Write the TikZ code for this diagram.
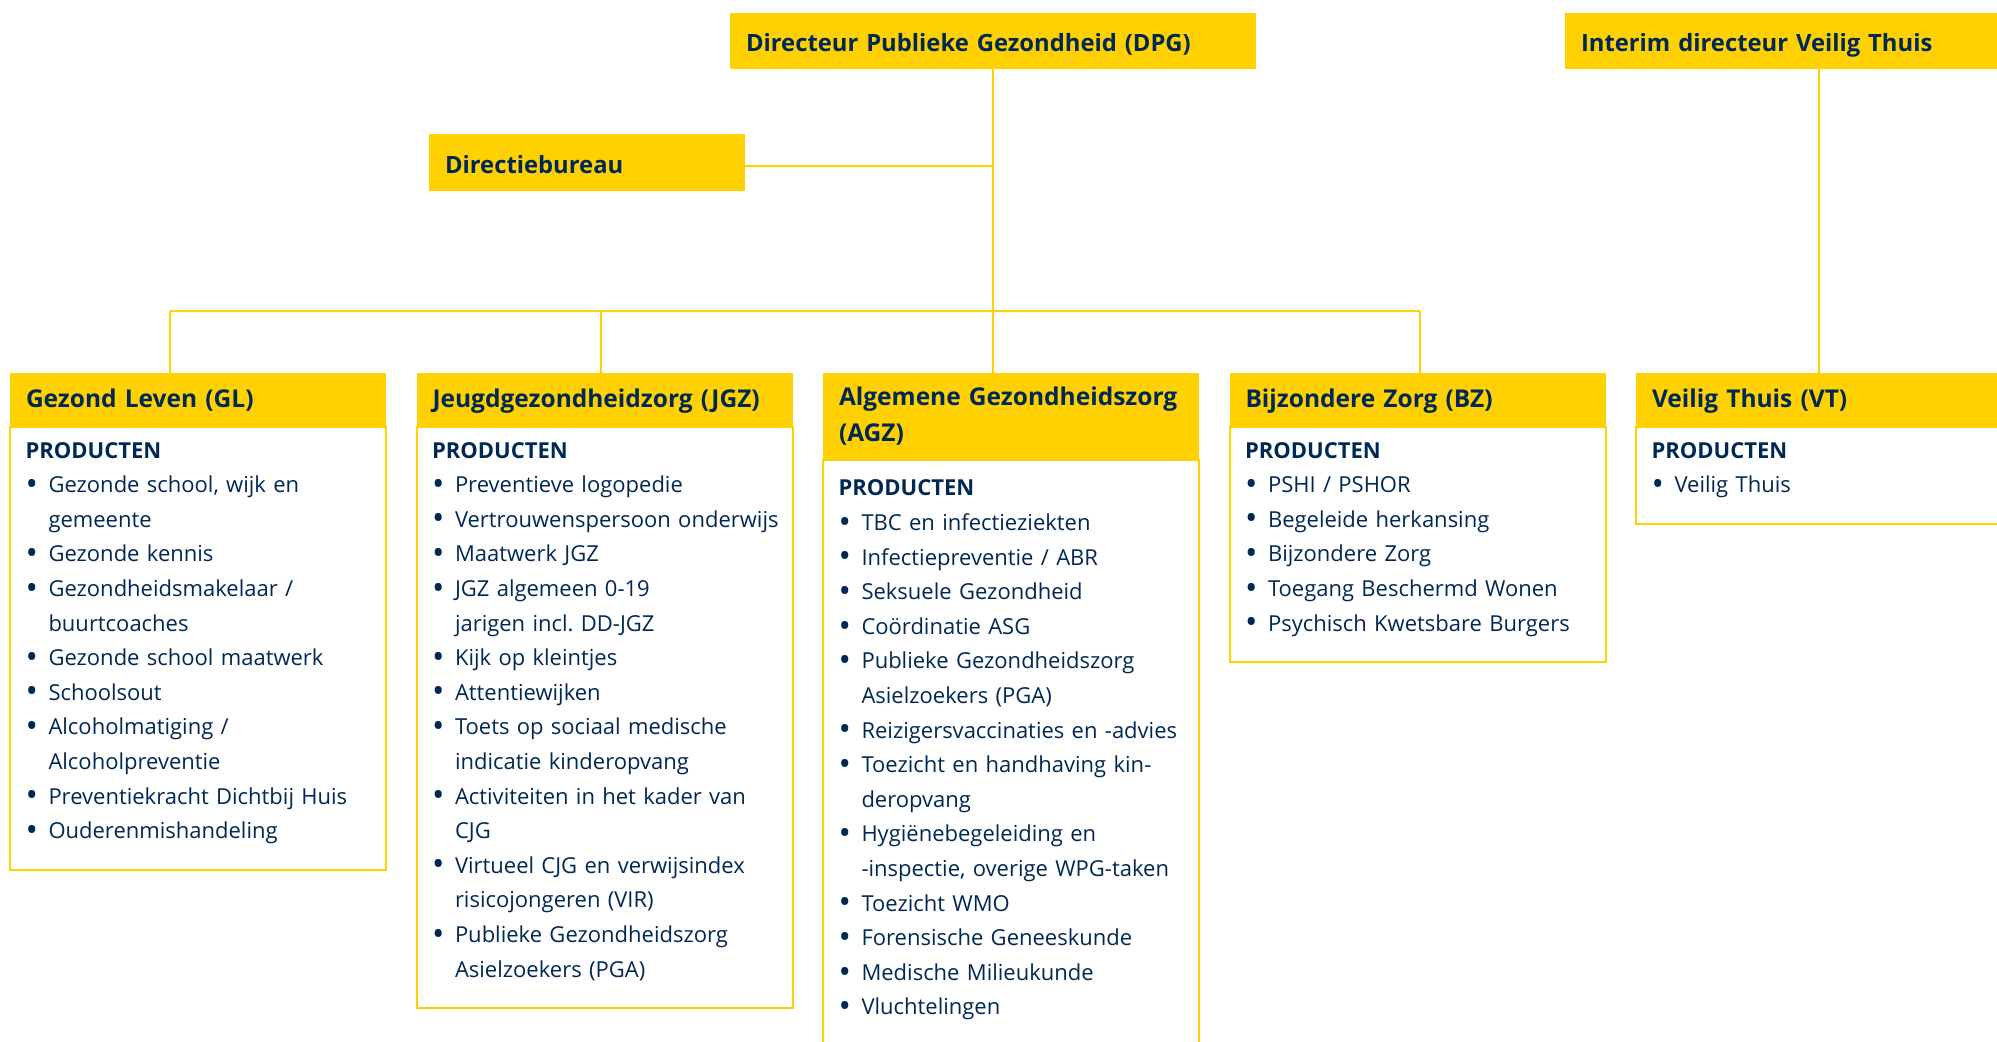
\documentclass[tikz,border=0pt]{standalone}
\usepackage{fontspec}
\setmainfont{Open Sans}
\usetikzlibrary{positioning}
\definecolor{ggdgeel}{RGB}{255,209,0}
\definecolor{ggdblauw}{RGB}{0,40,85}
\frenchspacing
\newcommand\bol{\raisebox{-0.12em}{\scalebox{1.5}{\textbullet}}}
\newcommand\itm[1]{\par\noindent\makebox[11.5pt][l]{\bol}\mbox{#1}}
\newcommand\itmm[2]{\itm{#1}\par\noindent\hspace*{11.5pt}\mbox{#2}}
\newcommand\prodkop{\noindent\textbf{PRODUCTEN}\strut}
\newcommand\slot{\rule[-12.1pt]{0pt}{12.1pt}}
\begin{document}
\begin{tikzpicture}[x=0.5pt,y=-0.5pt,
  kop/.style={fill=ggdgeel,text=ggdblauw,font=\bfseries\fontsize{12.25}{18}\selectfont,
    text width=172pt,inner xsep=8pt,inner ysep=3.75pt,minimum height=27pt,
    align=left,anchor=north west,outer sep=0pt},
  topkop/.style={kop,font=\bfseries\fontsize{11.9}{18}\selectfont,minimum height=28pt,
    text height=14.5pt,text depth=3.5pt},
  lijst/.style={draw=ggdgeel,line width=1pt,text=ggdblauw,font=\fontsize{11}{17.3}\selectfont,
    text width=172.5pt,inner xsep=7.75pt,inner ysep=3.4pt,outer sep=0pt},
  lijn/.style={draw=ggdgeel,line width=1.25pt}]
  \useasboundingbox[fill=white] (0,0) rectangle (1997,1042);

  \node[topkop,text width=247pt] (dpg) at (730,13) {\mbox{Directeur Publieke Gezondheid (DPG)}};
  \node[topkop,text width=247pt] (interim) at (1565,13) {\mbox{Interim directeur Veilig Thuis}};
  \node[topkop,text width=142pt,minimum height=28.5pt] (db) at (429,134) {Directiebureau};

  \node[kop] (glh) at (10,373) {\mbox{Gezond Leven (GL)}\strut};
  \node[kop,right=15.25pt of glh.north east,anchor=north west] (jgzh) {\mbox{Jeugdgezondheidzorg (JGZ)}\strut};
  \node[kop,right=15.25pt of jgzh.north east,anchor=north west] (agzh) {\mbox{Algemene Gezondheidszorg}\strut\\(AGZ)\strut};
  \node[kop,right=15.25pt of agzh.north east,anchor=north west] (bzh) {\mbox{Bijzondere Zorg (BZ)}\strut};
  \node[kop,right=15.25pt of bzh.north east,anchor=north west] (vth) {\mbox{Veilig Thuis (VT)}\strut};

  \node[lijst,below right=0pt and 0pt of glh.south west] (gl) {\prodkop
    \itmm{Gezonde school, wijk en}{gemeente}
    \itm{Gezonde kennis}
    \itmm{Gezondheidsmakelaar /}{buurtcoaches}
    \itm{Gezonde school maatwerk}
    \itm{Schoolsout}
    \itmm{Alcoholmatiging /}{Alcoholpreventie}
    \itm{Preventiekracht Dichtbij Huis}
    \itm{Ouderenmishandeling\slot}};
  \node[lijst,below right=0pt and 0pt of jgzh.south west] (jgz) {\prodkop
    \itm{Preventieve logopedie}
    \itm{Vertrouwenspersoon onderwijs}
    \itm{Maatwerk JGZ}
    \itmm{JGZ algemeen 0-19}{jarigen incl. DD-JGZ}
    \itm{Kijk op kleintjes}
    \itm{Attentiewijken}
    \itmm{Toets op sociaal medische}{indicatie kinderopvang}
    \itmm{Activiteiten in het kader van}{CJG}
    \itmm{Virtueel CJG en verwijsindex}{risicojongeren (VIR)}
    \itmm{Publieke Gezondheidszorg}{Asielzoekers (PGA)\slot}};
  \node[lijst,below right=0pt and 0pt of agzh.south west] (agz) {\prodkop\rule{0pt}{14.6pt}
    \itm{TBC en infectieziekten}
    \itm{Infectiepreventie / ABR}
    \itm{Seksuele Gezondheid}
    \itm{Coördinatie ASG}
    \itmm{Publieke Gezondheidszorg}{Asielzoekers (PGA)}
    \itm{Reizigersvaccinaties en -advies}
    \itmm{Toezicht en handhaving kin-}{deropvang}
    \itmm{Hygiënebegeleiding en}{-inspectie, overige WPG-taken}
    \itm{Toezicht WMO}
    \itm{Forensische Geneeskunde}
    \itm{Medische Milieukunde}
    \itm{Vluchtelingen\slot}};
  \node[lijst,below right=0pt and 0pt of bzh.south west] (bz) {\prodkop
    \itm{PSHI / PSHOR}
    \itm{Begeleide herkansing}
    \itm{Bijzondere Zorg}
    \itm{Toegang Beschermd Wonen}
    \itm{Psychisch Kwetsbare Burgers\slot}};
  \node[lijst,below right=0pt and 0pt of vth.south west] (vt) {\prodkop
    \itm{Veilig Thuis\slot}};

  \coordinate (busl) at (170,311);
  \coordinate (busj) at (601,311);
  \coordinate (busr) at (1420,311);
  \coordinate (vtx) at (1819,311);
  \draw[lijn] (dpg.south) -- (dpg.south |- agzh.north);
  \draw[lijn] ([yshift=-1.75pt]db.east) -- ([yshift=-1.75pt]db.east -| dpg.south);
  \draw[lijn] (busl) -- (busr);
  \draw[lijn] (busl) -- (busl |- glh.north);
  \draw[lijn] (busj) -- (busj |- jgzh.north);
  \draw[lijn] (busr) -- (busr |- bzh.north);
  \draw[lijn] (vtx |- interim.south) -- (vtx |- vth.north);
\end{tikzpicture}
\end{document}
